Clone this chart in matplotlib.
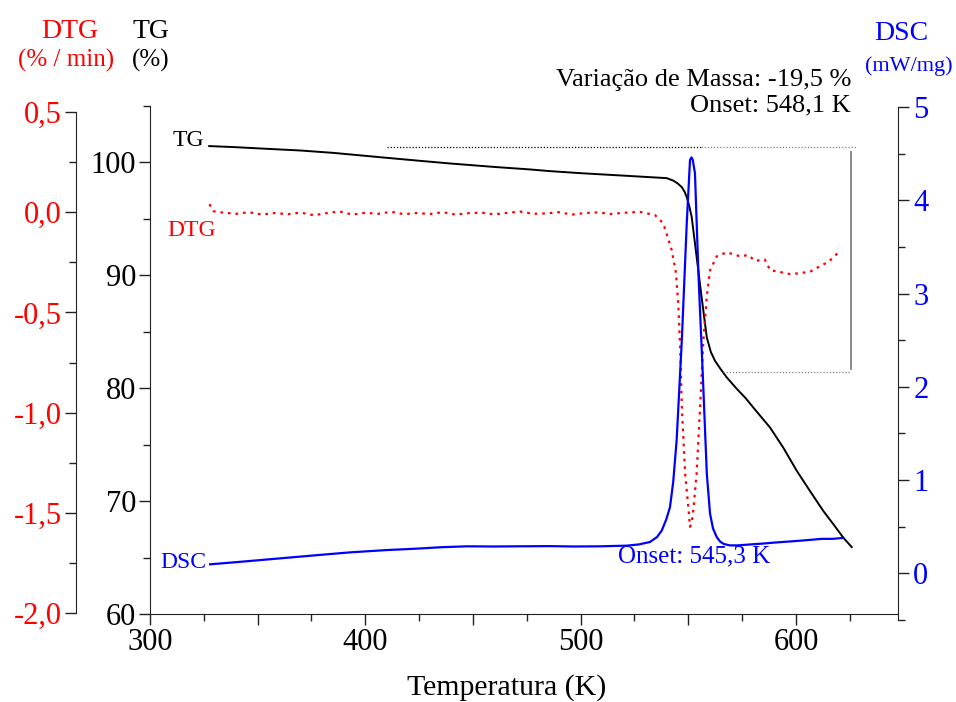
import numpy as np
import matplotlib
matplotlib.use('Agg')
import matplotlib.pyplot as plt
from matplotlib.ticker import MultipleLocator, FuncFormatter

plt.rcParams['font.family'] = ['Liberation Serif', 'DejaVu Serif']

# TG curve (%)
t_tg = [327.5, 340, 355, 369.7, 385, 408.2, 425, 439.3, 460, 476.5, 485.8, 500, 518.3, 530,
        540.0, 542.9, 545, 547.0, 548.3, 549.3, 550.5, 551.6, 553.9, 556.2, 558.6, 560.5,
        562.4, 565, 567.9, 572.5, 576.5, 580.2, 584, 588.0, 594.1, 600.4, 606.5, 612.7,
        617.4, 622.0, 625.9]
tg = [101.45, 101.35, 101.2, 101.06, 100.85, 100.44, 100.15, 99.91, 99.6, 99.38, 99.23, 99.05,
      98.85, 98.72, 98.61, 98.40, 98.15, 97.81, 97.4, 96.92, 96.1, 95.15, 91.60, 88.05, 84.50,
      83.2, 82.43, 81.7, 80.95, 79.95, 79.15, 78.29, 77.42, 76.51, 74.74, 72.68, 70.90,
      69.13, 67.95, 66.76, 65.93]

# DTG curve (% / min)
t_dtg = [327.6, 329.5, 334, 340, 346, 352, 358, 364, 370, 376, 382, 388, 394, 400, 406, 412,
         418, 424, 430, 436, 442, 448, 454, 460, 466, 472, 478, 484, 490, 496, 502, 508, 514,
         520, 527.6, 534.6, 538.4, 542.3, 544.3, 545.4, 546.2, 547.0, 548.5, 550.0, 550.8,
         551.6, 552.4, 553.9, 555.5, 557.0, 558.6, 560.1, 563.2, 567.9, 574.0, 577.9, 581.0,
         585.5, 588.0, 594.2, 597.3, 601.1, 606.6, 611.2, 615.1, 620.5]
dtg = [0.04, 0.005, -0.002, -0.008, 0.0, -0.012, -0.004, -0.01, -0.002, -0.015, -0.005, 0.004,
       -0.012, -0.003, -0.008, 0.002, -0.01, -0.004, -0.009, 0.0, -0.012, -0.005, -0.002,
       -0.011, -0.003, 0.003, -0.008, -0.006, 0.0, -0.012, -0.004, -0.001, -0.009, -0.003,
       0.0015, -0.015, -0.056, -0.189, -0.304, -0.472, -0.671, -0.97, -1.30, -1.47, -1.57,
       -1.55, -1.48, -1.30, -0.97, -0.64, -0.42, -0.29, -0.22, -0.20, -0.22, -0.214, -0.243,
       -0.236, -0.289, -0.302, -0.309, -0.305, -0.297, -0.269, -0.248, -0.193]

# DSC curve (mW/mg)
t_dsc = [327.9, 340, 360, 380, 392.9, 410, 423.9, 435, 447.1, 460, 470, 485.8, 497, 509.0,
         521.4, 527, 532.2, 535.5, 537.7, 539.8, 541.5, 543.0, 544.6, 547.0, 549.3, 550.8,
         551.5, 552.1, 553.1, 554.7, 556.7, 558.6, 560.1, 561.5, 563.2, 564.8, 566.5, 569.3,
         573, 578.7, 585, 590, 596, 601.9, 607, 612, 617, 622.0]
dsc = [0.097, 0.12, 0.16, 0.20, 0.225, 0.25, 0.265, 0.28, 0.29, 0.288, 0.29, 0.292, 0.288,
       0.29, 0.297, 0.31, 0.336, 0.39, 0.46, 0.58, 0.71, 0.98, 1.43, 2.50, 3.76, 4.43,
       4.46, 4.43, 4.29, 3.22, 2.15, 1.07, 0.64, 0.48, 0.39, 0.34, 0.315, 0.30, 0.30, 0.31,
       0.32, 0.33, 0.34, 0.35, 0.36, 0.37, 0.37, 0.38]

# mass-loss step markers
tg_start, tg_end = 101.4, 81.4
t_top_black = [410, 556]
t_top_gray = [556, 628.4]
t_low = [566, 625.1]
t_bar = 625.7

W, H = 956, 702
fig = plt.figure(figsize=(W / 100, H / 100), dpi=100)

def rect(x0, x1, ytop, ybot):
    return [x0 / W, 1 - ybot / H, (x1 - x0) / W, (ybot - ytop) / H]

spine_c = '#222222'
xmin, xmax = 300, 647.4
tsize = 22

# TG axes
ax = fig.add_axes(rect(150, 898, 106, 614))
ax.set_facecolor('none')
ax.plot(t_tg, tg, color='black', lw=1.4)
ax.plot(t_top_black, [tg_start] * 2, color='black', lw=0.9, ls=(0, (1, 1.5)))
ax.plot(t_top_gray, [tg_start] * 2, color='gray', lw=0.9, ls=(0, (1, 1.5)))
ax.plot(t_low, [tg_end] * 2, color='gray', lw=0.9, ls=(0, (1, 1.5)))
ax.plot([t_bar, t_bar], [100.9, 81.7], color='gray', lw=1.3)
ax.set_xlim(xmin, xmax)
ax.set_ylim(60, 105)
for s in ['top', 'right']:
    ax.spines[s].set_visible(False)
for s in ['left', 'bottom']:
    ax.spines[s].set_color(spine_c)
ax.xaxis.set_major_locator(MultipleLocator(50))
ax.xaxis.set_minor_locator(MultipleLocator(25))
ax.xaxis.set_major_formatter(FuncFormatter(lambda v, p: f'{v:.0f}' if v % 100 == 0 else ''))
ax.yaxis.set_major_locator(MultipleLocator(10))
ax.yaxis.set_minor_locator(MultipleLocator(5))
ax.tick_params(which='major', length=8, width=1, color=spine_c, labelsize=tsize, pad=2)
ax.tick_params(which='minor', length=5, width=1, color=spine_c)

# DTG axes
ax2 = fig.add_axes(rect(150, 898, 112, 613))
ax2.set_facecolor('none')
ax2.plot(t_dtg, dtg, color='red', lw=1.6, ls=(0, (1.2, 2.2)))
ax2.set_xlim(xmin, xmax)
ax2.set_ylim(-2.0, 0.5)
for s in ['top', 'right', 'bottom']:
    ax2.spines[s].set_visible(False)
ax2.spines['left'].set_position(('axes', (76 - 150) / 748))
ax2.spines['left'].set_color(spine_c)
ax2.set_xticks([])
ax2.yaxis.set_major_locator(MultipleLocator(0.5))
ax2.yaxis.set_minor_locator(MultipleLocator(0.25))
ax2.yaxis.set_major_formatter(FuncFormatter(lambda v, p: f'{v:.1f}'.replace('.', ',')))
ax2.tick_params(which='major', length=8, width=1, color=spine_c, labelsize=tsize,
                labelcolor='red', pad=2)
ax2.tick_params(which='minor', length=5, width=1, color=spine_c)

# DSC axes
ax3 = fig.add_axes(rect(150, 898, 107, 620))
ax3.set_facecolor('none')
ax3.plot(t_dsc, dsc, color='blue', lw=1.6)
ax3.set_xlim(xmin, xmax)
ax3.set_ylim(-0.5, 5.0)
for s in ['top', 'left', 'bottom']:
    ax3.spines[s].set_visible(False)
ax3.spines['right'].set_color(spine_c)
ax3.set_xticks([])
ax3.yaxis.tick_right()
ax3.yaxis.set_minor_locator(MultipleLocator(0.5))
ax3.set_yticks(range(0, 6))
ax3.tick_params(which='major', length=8, width=1, color=spine_c, labelsize=tsize,
                labelcolor='blue', pad=3)
ax3.tick_params(which='minor', length=5, width=1, color=spine_c)

def ftext(x, y, s, **kw):
    fig.text(x / W, 1 - y / H, s, va='center', **kw)

ftext(507, 688, 'Temperatura (K)', color='black', fontsize=21.5, ha='center')
ftext(70, 32, 'DTG', color='red', fontsize=20, ha='center')
ftext(66, 60, '(% / min)', color='red', fontsize=18, ha='center')
ftext(151, 32, 'TG', color='black', fontsize=20, ha='center')
ftext(151, 60, '(%)', color='black', fontsize=18, ha='center')
ftext(901, 33, 'DSC', color='blue', fontsize=20, ha='center')
ftext(909, 66, '(mW/mg)', color='blue', fontsize=16, ha='center')
ftext(851, 80, 'Variação de Massa: -19,5 %', color='black', fontsize=19, ha='right')
ftext(851, 105, 'Onset: 548,1 K', color='black', fontsize=19, ha='right')
ftext(204, 140, 'TG', color='black', fontsize=17, ha='right')
ftext(216, 230, 'DTG', color='red', fontsize=17, ha='right')
ftext(206, 563, 'DSC', color='blue', fontsize=17, ha='right')
ftext(618, 556, 'Onset: 545,3 K', color='blue', fontsize=18, ha='left')

fig.savefig('out.png', dpi=100, facecolor='white')
